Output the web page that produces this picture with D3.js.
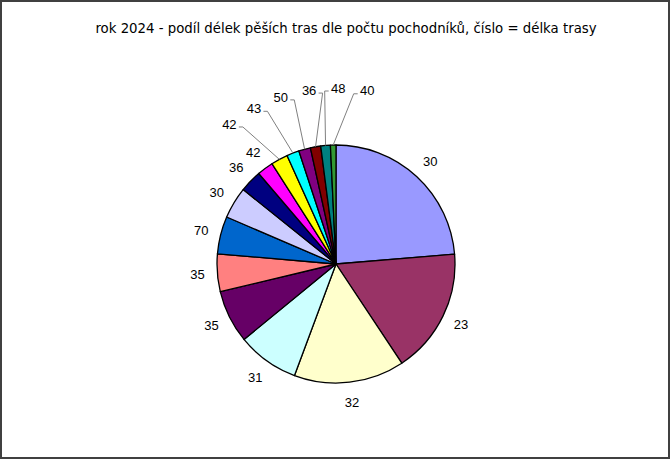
<!DOCTYPE html>
<html>
<head>
<meta charset="utf-8">
<script src="https://cdn.jsdelivr.net/npm/d3@7"></script>
<style>
  html, body { margin: 0; padding: 0; background: #fff; }
  svg { display: block; }
</style>
</head>
<body>
<div id="chart" style="width:670px;height:459px"></div>
<script>
// route length (km) shown as the slice label
const lengths = ['30', '23', '32', '31', '35', '35', '70', '30', '36', '42', '42', '43', '50', '36', '48', '40']
// share of walkers per route, in %
const shares = [23.7, 17.0, 15.0, 8.4, 7.2, 5.1, 5.1, 4.3, 3.0, 2.2, 2.3, 1.7, 1.6, 1.4, 1.3, 0.75]
const colors = ['#9999ff', '#993366', '#ffffcc', '#ccffff', '#660066', '#ff8080', '#0066cc', '#ccccff',
  '#000080', '#ff00ff', '#ffff00', '#00ffff', '#800080', '#800000', '#008080', '#339933']
const title = 'rok 2024 - podíl délek pěších tras dle počtu pochodníků, číslo = délka trasy'

const op = {
  width: 670,
  height: 459,
  cx: 336,
  cy: 264,
  r: 119,
  labelGap: 20,
  outerGap: 57,
  spread: 9.5 * Math.PI / 180
}

const data = lengths.map((k, i) => ({ key: k, value: shares[i], color: colors[i] }))

let svg = d3.select('#chart')
  .append('svg')
  .attr('width', op.width)
  .attr('height', op.height)

svg.append('rect')
  .attr('x', 1).attr('y', 1)
  .attr('width', op.width - 2).attr('height', op.height - 2)
  .attr('fill', '#fff')
  .attr('stroke', '#404040')
  .attr('stroke-width', 2)

svg.append('text')
  .attr('x', 346).attr('y', 33)
  .attr('text-anchor', 'middle')
  .style('font-family', 'DejaVu Sans, Verdana, sans-serif')
  .style('font-size', '13.3px')
  .style('fill', '#000')
  .text(title)

let pie = d3.pie().sort(null).value(d => d.value)
let arcs = pie(data)
let arc = d3.arc().innerRadius(0).outerRadius(op.r)

let graph = svg.append('g')
  .attr('transform', `translate(${op.cx},${op.cy})`)

graph.selectAll('path.slice')
  .data(arcs).enter().append('path')
  .classed('slice', true)
  .attr('d', arc)
  .attr('fill', d => d.data.color)
  .attr('stroke', '#000')
  .attr('stroke-width', 1.3)
  .attr('stroke-linejoin', 'round')

// label placement: put labels next to the slice until two collide,
// the rest go on an outer ring spread apart with leader lines
let mid = d => (d.startAngle + d.endAngle) / 2
let polar = (a, rr) => [Math.sin(a) * rr, -Math.cos(a) * rr]
let lw = 15, lh = 12
let boxes = []
let firstOuter = arcs.length
arcs.forEach((d, i) => {
  if (firstOuter < arcs.length) return
  let p = polar(mid(d), op.r + op.labelGap)
  let b = { x0: p[0] - lw / 2 - 1, x1: p[0] + lw / 2 + 1, y0: p[1] - lh / 2 - 1, y1: p[1] + lh / 2 + 1 }
  let hit = boxes.some(o => b.x0 < o.x1 && b.x1 > o.x0 && b.y0 < o.y1 && b.y1 > o.y0)
  if (hit) { firstOuter = i; return }
  boxes.push(b)
  d.lx = p[0]; d.ly = p[1]; d.lead = false
})
let outer = arcs.slice(firstOuter)
if (outer.length) {
  let m = d3.mean(outer, mid)
  outer.forEach((d, j) => {
    let a = m + (j - (outer.length - 1) / 2) * op.spread
    let p = polar(a, op.r + op.outerGap)
    d.lx = p[0]; d.ly = p[1]; d.lead = true
  })
}

graph.selectAll('path.lead')
  .data(arcs.filter(d => d.lead)).enter().append('path')
  .classed('lead', true)
  .attr('fill', 'none')
  .attr('stroke', '#808080')
  .attr('stroke-width', 1)
  .attr('d', d => {
    let e = polar(mid(d), op.r)
    let y = d.ly + 3
    if (d.lx < e[0] - 6) {
      let x = d.lx + lw / 2 + 2
      return `M${x},${y}H${x + 4}L${e[0]},${e[1]}`
    } else if (d.lx > e[0] + 6) {
      let x = d.lx - lw / 2 - 2
      return `M${x},${y}H${x - 4}L${e[0]},${e[1]}`
    }
    return `M${d.lx + 5},${d.ly + 7}L${e[0]},${e[1]}`
  })

graph.selectAll('text.label')
  .data(arcs).enter().append('text')
  .classed('label', true)
  .attr('x', d => d.lx)
  .attr('y', d => d.ly)
  .attr('dy', '0.36em')
  .attr('text-anchor', 'middle')
  .style('font-family', 'Liberation Sans, Arial, sans-serif')
  .style('font-size', '13px')
  .style('fill', '#000')
  .text(d => d.data.key)
</script>
</body>
</html>
